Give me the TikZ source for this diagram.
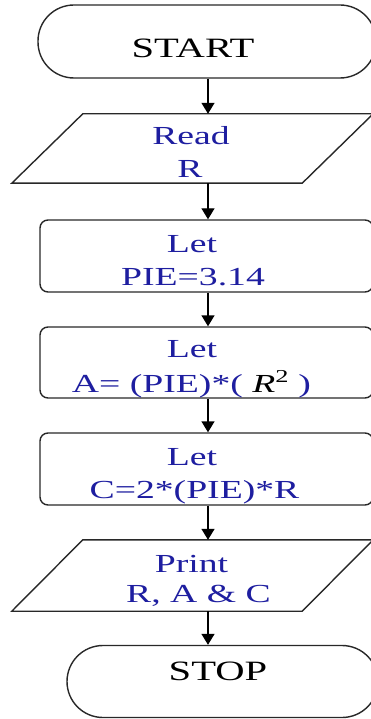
\documentclass[tikz,border=0pt]{standalone}
\usepackage{fontspec}
\usetikzlibrary{arrows.meta}
\newfontfamily\flowfont[FakeStretch=1.45]{Liberation Serif}
\definecolor{inkblue}{RGB}{30,30,160}
\definecolor{edge}{RGB}{40,40,40}

\tikzset{
  shapeline/.style={draw=edge, line width=1.4pt},
  termbox/.style={shapeline, rectangle, rounded corners=36pt, inner sep=0pt},
  procbox/.style={shapeline, rectangle, rounded corners=8pt, inner sep=0pt},
  iobox/.style={rectangle, inner sep=0pt},
  flowarrow/.style={draw=black, line width=1.4pt, -{Triangle[width=13pt,length=11pt]}},
  termtext/.style={anchor=base, inner sep=0pt, font=\flowfont\fontsize{28}{33}\selectfont, text=black},
  steptext/.style={anchor=base, inner sep=0pt, font=\flowfont\fontsize{26}{33}\selectfont, text=inkblue},
}

\begin{document}
\begin{tikzpicture}[x=1pt, y=-1pt]
  \useasboundingbox (0,0) rectangle (371,719);
  \fill[white] (0,0) rectangle (371,719);
  \clip (0,0) rectangle (371,719);

  % spine of the flow
  \coordinate (spine) at (208,0);

  % shapes
  \node[termbox, minimum width=338pt, minimum height=73pt] (start) at (207,41.5) {};
  \node[iobox, minimum width=361pt, minimum height=69pt] (read) at (192.5,148.5) {};
  \node[procbox, minimum width=333pt, minimum height=72pt] (let1) at (206.5,256) {};
  \node[procbox, minimum width=333pt, minimum height=71pt] (let2) at (206.5,362.5) {};
  \node[procbox, minimum width=333pt, minimum height=72pt] (let3) at (206.5,469) {};
  \node[iobox, minimum width=361pt, minimum height=71pt] (print) at (192.5,575.5) {};
  \node[termbox, minimum width=311pt, minimum height=72pt] (stop) at (222.5,681.5) {};

  % input / output parallelograms
  \draw[shapeline] ([xshift=71pt]read.north west) -- (read.north east)
    -- ([xshift=-71pt]read.south east) -- (read.south west) -- cycle;
  \draw[shapeline] ([xshift=71pt]print.north west) -- (print.north east)
    -- ([xshift=-71pt]print.south east) -- (print.south west) -- cycle;

  % texts
  \node[termtext] (tstart) at (193,58) {START};
  \node[steptext] (tread1) at (191,145) {Read};
  \node[steptext] (tread2) at (190,178) {R};
  \node[steptext] (tlet1a) at (192,252) {Let};
  \node[steptext] (tlet1b) at (193,285) {PIE=3.14};
  \node[steptext] (tlet2a) at (192,357) {Let};
  \node[steptext] (tlet2b) at (191.5,392) {A= (PIE)*( {\color{black}\itshape R}\textsuperscript{\color{black}2} )};
  \node[steptext] (tlet3a) at (192,465) {Let};
  \node[steptext] (tlet3b) at (194.5,498) {C=2*(PIE)*R};
  \node[steptext] (tprint1) at (191.5,572) {Print};
  \node[steptext] (tprint2) at (198.5,602) {R, A \& C};
  \node[termtext] (tstop) at (218,680) {STOP};

  % connectors
  \draw[flowarrow] (spine |- start.south) -- (spine |- read.north);
  \draw[flowarrow] (spine |- read.south) -- (spine |- let1.north);
  \draw[flowarrow] (spine |- let1.south) -- (spine |- let2.north);
  \draw[flowarrow] (spine |- let2.south) -- (spine |- let3.north);
  \draw[flowarrow] (spine |- let3.south) -- (spine |- print.north);
  \draw[flowarrow] (spine |- print.south) -- (spine |- stop.north);
\end{tikzpicture}
\end{document}
